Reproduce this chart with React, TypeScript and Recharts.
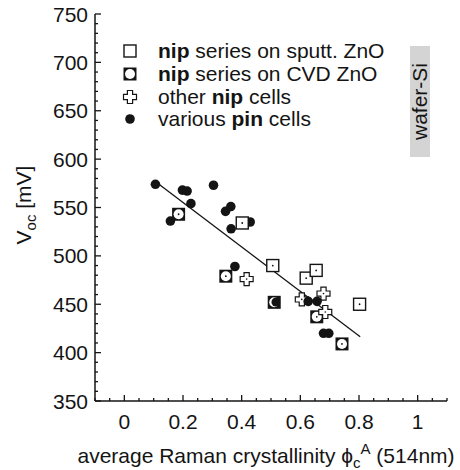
import React from "react";
import { ScatterChart, Scatter, XAxis, YAxis, Legend } from "recharts";

// crystallinity (x) and Voc in mV
const pinX = [0.106, 0.157, 0.198, 0.214, 0.227, 0.304, 0.345, 0.363, 0.364, 0.377, 0.429, 0.627, 0.657, 0.679, 0.697];
const pinV = [574, 536, 568, 567, 554, 573, 546, 551, 528, 489, 535, 453, 453, 420, 420];

const sputtX = [0.402, 0.506, 0.62, 0.654, 0.802];
const sputtV = [534, 490, 477, 485, 450];

const cvdX = [0.185, 0.346, 0.656, 0.742];
const cvdV = [543, 479, 437, 409];
const cvdCrescentX = [0.511];
const cvdCrescentV = [452];

const otherNipX = [0.417, 0.605, 0.679, 0.685];
const otherNipV = [476, 455, 461, 442];

const fitX = [0.109, 0.804];
const fitV = [576, 416.5];

const xMajor = [0, 0.2, 0.4, 0.6, 0.8, 1];
const yMajor = [350, 400, 450, 500, 550, 600, 650, 700, 750];

const legendRows = [
  { pre: "", bold: "nip", post: " series on sputt. ZnO" },
  { pre: "", bold: "nip", post: " series on CVD ZnO" },
  { pre: "other ", bold: "nip", post: " cells" },
  { pre: "various ", bold: "pin", post: " cells" },
];

const ink = "#141414";
const font = "'Liberation Sans', Arial, Helvetica, sans-serif";

const pts = (xs: number[], vs: number[]) => xs.map((x, i) => ({ x, v: vs[i] }));

// minor ticks: every 0.05 on x, every 10 mV on y
const xTicks: number[] = [];
for (let i = -2; i <= 22; i++) xTicks.push(Math.round(i * 5) / 100);
const yTicks: number[] = [];
for (let v = 350; v <= 750; v += 10) yTicks.push(v);

const isMajor = (v: number, majors: number[]) => majors.some((m) => Math.abs(m - v) < 1e-9);

const makeXTick = (side: "bottom" | "top") => (props: any) => {
  const { x, y, payload } = props;
  const major = isMajor(payload.value, xMajor);
  const len = major ? 6 : 3;
  const dir = side === "bottom" ? -1 : 1;
  return (
    <g>
      <line x1={x} x2={x} y1={y} y2={y + dir * len} stroke={ink} strokeWidth={1.3} />
      {side === "bottom" && major && (
        <text x={x} y={y + 28} textAnchor="middle" fontSize={21} fill={ink} fontFamily={font}>
          {String(payload.value)}
        </text>
      )}
    </g>
  );
};

const makeYTick = (side: "left" | "right") => (props: any) => {
  const { x, y, payload } = props;
  const major = isMajor(payload.value, yMajor);
  const len = major ? 6 : 3;
  const dir = side === "left" ? 1 : -1;
  return (
    <g>
      <line x1={x} x2={x + dir * len} y1={y} y2={y} stroke={ink} strokeWidth={1.3} />
      {side === "left" && major && (
        <text x={x - 7} y={y} dy="0.36em" textAnchor="end" fontSize={21} fill={ink} fontFamily={font}>
          {payload.value}
        </text>
      )}
    </g>
  );
};

const SputtMark = ({ cx, cy, dot = true }: any) => (
  <g>
    <rect x={cx - 6} y={cy - 6} width={12} height={12} fill="#fff" stroke={ink} strokeWidth={1.4} />
    {dot && <circle cx={cx} cy={cy} r={0.9} fill={ink} />}
  </g>
);

const CvdMark = ({ cx, cy, dot = true }: any) => (
  <g>
    <rect x={cx - 6.5} y={cy - 6.5} width={13} height={13} fill={ink} />
    <circle cx={cx} cy={cy} r={5} fill="#fff" />
    {dot && <circle cx={cx} cy={cy} r={0.9} fill={ink} />}
  </g>
);

const CrescentMark = ({ cx, cy }: any) => (
  <g>
    <rect x={cx - 6.5} y={cy - 6.5} width={13} height={13} fill={ink} />
    <circle cx={cx} cy={cy} r={5} fill="#fff" />
    <circle cx={cx + 1.6} cy={cy - 0.3} r={4.4} fill={ink} />
  </g>
);

const PlusMark = ({ cx, cy, dot = true }: any) => {
  const a = 2.6;
  const b = 6.5;
  const d = `M${cx - a},${cy - b} h${2 * a} v${b - a} h${b - a} v${2 * a} h${a - b} v${b - a} h${-2 * a} v${a - b} h${a - b} v${-2 * a} h${b - a} Z`;
  return (
    <g>
      <path d={d} fill="#fff" stroke={ink} strokeWidth={1.2} />
      {dot && <circle cx={cx} cy={cy} r={0.8} fill={ink} />}
    </g>
  );
};

const PinMark = ({ cx, cy }: any) => <circle cx={cx} cy={cy} r={4.8} fill={ink} />;

const legendMarks = [SputtMark, CvdMark, PlusMark, PinMark];

const LegendBox = () => (
  <div style={{ fontFamily: font, fontSize: 21, color: ink }}>
    {legendRows.map((row, i) => {
      const Mark = legendMarks[i];
      return (
        <div key={i} style={{ display: "flex", alignItems: "center", height: 22.7, whiteSpace: "nowrap" }}>
          <svg width={24} height={22} style={{ marginRight: 16 }}>
            <Mark cx={12} cy={11} dot={false} />
          </svg>
          <span>
            {row.pre}
            <b>{row.bold}</b>
            {row.post}
          </span>
        </div>
      );
    })}
  </div>
);

export default function App() {
  const axisLine = { stroke: ink, strokeWidth: 1.5 };
  return (
    <div style={{ position: "relative", width: 460, height: 470, fontFamily: font, color: ink }}>
      <style>{`body{margin:0}`}</style>
      <ScatterChart width={460} height={470} margin={{ top: 14, right: 13, bottom: 0, left: 0 }}>
        <XAxis
          xAxisId="b"
          type="number"
          dataKey="x"
          domain={[-0.1, 1.1]}
          allowDataOverflow
          ticks={xTicks}
          interval={0}
          tickSize={0}
          tickMargin={0}
          tickLine={false}
          tick={makeXTick("bottom")}
          height={69}
          axisLine={axisLine}
        />
        <XAxis
          xAxisId="t"
          orientation="top"
          type="number"
          dataKey="x"
          domain={[-0.1, 1.1]}
          allowDataOverflow
          ticks={xTicks}
          interval={0}
          tickSize={0}
          tickMargin={0}
          tickLine={false}
          tick={makeXTick("top")}
          height={0}
          axisLine={axisLine}
        />
        <YAxis
          yAxisId="l"
          type="number"
          dataKey="v"
          domain={[350, 750]}
          allowDataOverflow
          ticks={yTicks}
          interval={0}
          tickSize={0}
          tickMargin={0}
          tickLine={false}
          tick={makeYTick("left")}
          width={95}
          axisLine={axisLine}
        />
        <YAxis
          yAxisId="r"
          orientation="right"
          type="number"
          dataKey="v"
          domain={[350, 750]}
          allowDataOverflow
          ticks={yTicks}
          interval={0}
          tickSize={0}
          tickMargin={0}
          tickLine={false}
          tick={makeYTick("right")}
          width={0}
          axisLine={axisLine}
        />
        <Legend
          layout="vertical"
          align="center"
          verticalAlign="middle"
          width={290}
          wrapperStyle={{ top: 40, left: 118 }}
          content={() => <LegendBox />}
        />
        <Scatter
          xAxisId="b"
          yAxisId="l"
          name="fit"
          data={pts(fitX, fitV)}
          line={{ stroke: ink, strokeWidth: 1.3 }}
          shape={() => <g />}
          legendType="none"
          isAnimationActive={false}
        />
        <Scatter xAxisId="b" yAxisId="l" name="cvd" data={pts(cvdX, cvdV)} shape={CvdMark} isAnimationActive={false} />
        <Scatter
          xAxisId="b"
          yAxisId="l"
          name="cvd2"
          data={pts(cvdCrescentX, cvdCrescentV)}
          shape={CrescentMark}
          legendType="none"
          isAnimationActive={false}
        />
        <Scatter xAxisId="b" yAxisId="l" name="other" data={pts(otherNipX, otherNipV)} shape={PlusMark} isAnimationActive={false} />
        <Scatter xAxisId="b" yAxisId="l" name="pin" data={pts(pinX, pinV)} shape={PinMark} isAnimationActive={false} />
        <Scatter xAxisId="b" yAxisId="l" name="sputt" data={pts(sputtX, sputtV)} shape={SputtMark} isAnimationActive={false} />
      </ScatterChart>

      <div
        style={{
          position: "absolute",
          left: 410,
          top: 46,
          width: 20,
          height: 111,
          background: "#d4d4d4",
          display: "flex",
          alignItems: "center",
          justifyContent: "center",
        }}
      >
        <div style={{ transform: "rotate(-90deg)", fontSize: 21, whiteSpace: "nowrap", lineHeight: 1 }}>wafer-Si</div>
      </div>

      <div
        style={{
          position: "absolute",
          left: 23,
          top: 205,
          transform: "translate(-50%, -50%) rotate(-90deg)",
          fontSize: 21,
          whiteSpace: "nowrap",
          lineHeight: 1,
        }}
      >
        V<span style={{ fontSize: 15, position: "relative", top: 5 }}>oc</span> [mV]
      </div>

      <div
        style={{
          position: "absolute",
          left: 266,
          top: 455,
          transform: "translate(-50%, -50%)",
          fontSize: 21,
          whiteSpace: "nowrap",
          lineHeight: 1,
        }}
      >
        average Raman crystallinity ϕ
        <span style={{ fontSize: 15, position: "relative", top: 5 }}>c</span>
        <span style={{ fontSize: 15, position: "relative", top: -9 }}>A</span> (514nm)
      </div>
    </div>
  );
}
